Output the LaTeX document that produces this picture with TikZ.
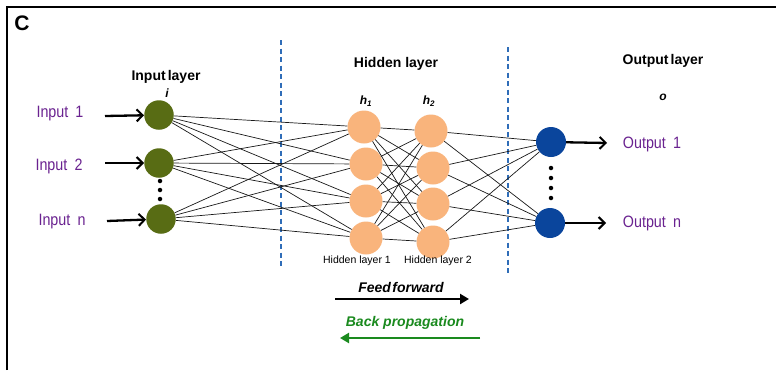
\documentclass[tikz,border=0pt]{standalone}
\usepackage{fontspec}
\setmainfont{Liberation Sans}
\usetikzlibrary{arrows.meta}
\definecolor{ingreen}{HTML}{586C14}
\definecolor{hidorange}{HTML}{F9B47C}
\definecolor{outblue}{HTML}{0A459C}
\definecolor{txtpurple}{HTML}{6A2290}
\definecolor{bpgreen}{HTML}{1A8A1E}
\definecolor{dashblue}{HTML}{2F6DB8}
\newcommand{\tallt}[1]{\scalebox{1}[1.15]{#1}}
\tikzset{
  innode/.style={circle,fill=ingreen,minimum size=29.5pt,inner sep=0pt},
  hidnode/.style={circle,fill=hidorange,minimum size=33pt,inner sep=0pt},
  outnode/.style={circle,fill=outblue,minimum size=30pt,inner sep=0pt},
  iotext/.style={text=txtpurple,font=\fontsize{14.3}{16}\selectfont,inner sep=0pt},
  hdr/.style={font=\bfseries\fontsize{14}{16}\selectfont,inner sep=0pt},
  smalllab/.style={font=\fontsize{10.5}{12}\selectfont,inner sep=0pt},
  wire/.style={line width=0.7pt,black!90},
  ioarrow/.style={line width=2.3pt,-{Straight Barb[length=6pt,width=12pt,line width=2pt]}},
  sep/.style={dashblue,line width=1.5pt,dash pattern=on 5pt off 3.5pt},
  dotm/.style={circle,fill=black,minimum size=4.5pt,inner sep=0pt}
}
\begin{document}
\begin{tikzpicture}[x=1pt,y=-1pt]
\useasboundingbox (0,0) rectangle (776,370);
\fill[white] (0,0) rectangle (776,370);
% frame
\draw[line width=1.5pt] (7,370) -- (7,7) -- (776,7);
\node[font=\bfseries\fontsize{21}{24}\selectfont,inner sep=0pt] (lblC) at (22,23) {C};

% separators
\coordinate (s1t) at (281,40); \coordinate (s1b) at (281,267);
\coordinate (s2t) at (508,47); \coordinate (s2b) at (508,274);
\draw[sep] (s1t) -- (s1b);
\draw[sep] (s2t) -- (s2b);

% headers
\node[hdr] (inlayer) at (166,77) {Input\hspace{0.15em}layer};
\node[font=\bfseries\itshape\fontsize{12}{14}\selectfont,inner sep=0pt] (ilab) at (167,93) {i};
\node[hdr] (hidlayer) at (396,64) {Hidden layer};
\node[font=\bfseries\itshape\fontsize{12}{14}\selectfont,inner sep=0pt] (h1lab) at (366,101) {h\textsubscript{1}};
\node[font=\bfseries\itshape\fontsize{12}{14}\selectfont,inner sep=0pt] (h2lab) at (429,101) {h\textsubscript{2}};
\node[hdr] (outlayer) at (663,61) {Output\hspace{0.15em}layer};
\node[font=\bfseries\itshape\fontsize{12}{14}\selectfont,inner sep=0pt] (olab) at (663,97) {o};

% input nodes
\node[innode] (i1) at (159,115) {};
\node[innode] (i2) at (159,163) {};
\node[innode] (i3) at (161,219) {};
\foreach \y in {181,190,199} \node[dotm] at (160,\y) {};

% hidden nodes
\node[hidnode] (a1) at (364,127) {};
\node[hidnode] (a2) at (366,164) {};
\node[hidnode] (a3) at (366,201) {};
\node[hidnode] (a4) at (366,238) {};
\node[hidnode] (b1) at (431,131) {};
\node[hidnode] (b2) at (433,168) {};
\node[hidnode] (b3) at (433,204) {};
\node[hidnode] (b4) at (433,242) {};

% output nodes
\node[outnode] (o1) at (551,142) {};
\node[outnode] (o2) at (550,223) {};
\foreach \y in {168,178,188,198} \node[dotm] at (551,\y) {};

% wires
\foreach \s in {i1,i2,i3} \foreach \t in {a1,a2,a3,a4} \draw[wire] (\s) -- (\t);
\foreach \s in {a1,a2,a3,a4} \foreach \t in {b1,b2,b3,b4} \draw[wire] (\s) -- (\t);
\foreach \s in {b1,b2,b3,b4} \foreach \t in {o1,o2} \draw[wire] (\s) -- (\t);

% input texts and arrows
\node[iotext] (t1) at (60,114) {\tallt{Input\hspace{0.5em}1}};
\node[iotext] (t2) at (59,166) {\tallt{Input\hspace{0.5em}2}};
\node[iotext] (t3) at (62,222) {\tallt{Input\hspace{0.5em}n}};
\coordinate (ia1) at (105,116);
\coordinate (ia2) at (105,163);
\coordinate (ia3) at (107,221);
\draw[ioarrow] (ia1) -- (i1);
\draw[ioarrow] (ia2) -- (i2);
\draw[ioarrow] (ia3) -- (i3);

% outputs
\node[iotext] (u1) at (652,144) {\tallt{Output\hspace{0.5em}1}};
\node[iotext] (u2) at (652,223) {\tallt{Output\hspace{0.5em}n}};
\coordinate (oa1) at (607,143);
\coordinate (oa2) at (606,223);
\draw[ioarrow] (o1) -- (oa1);
\draw[ioarrow] (o2) -- (oa2);

% hidden sublabels
\node[smalllab] (hl1) at (357,261) {Hidden layer 1};
\node[smalllab] (hl2) at (438,261) {Hidden layer 2};

% feed forward / back propagation
\node[font=\bfseries\itshape\fontsize{14}{16}\selectfont,inner sep=0pt] (ff) at (401,287) {Feed\hspace{0.1em}forward};
\coordinate (ffa) at (335,299); \coordinate (ffb) at (469,299);
\draw[line width=2.8pt,-{Triangle[length=9pt,width=10pt]}] (ffa) -- (ffb);
\node[font=\bfseries\itshape\fontsize{14}{16}\selectfont,inner sep=0pt,text=bpgreen] (bp) at (405,323) {Back propagation};
\coordinate (bpa) at (480,338); \coordinate (bpb) at (340,338);
\draw[line width=2.8pt,bpgreen,-{Triangle[length=9pt,width=10pt]}] (bpa) -- (bpb);
\end{tikzpicture}
\end{document}
